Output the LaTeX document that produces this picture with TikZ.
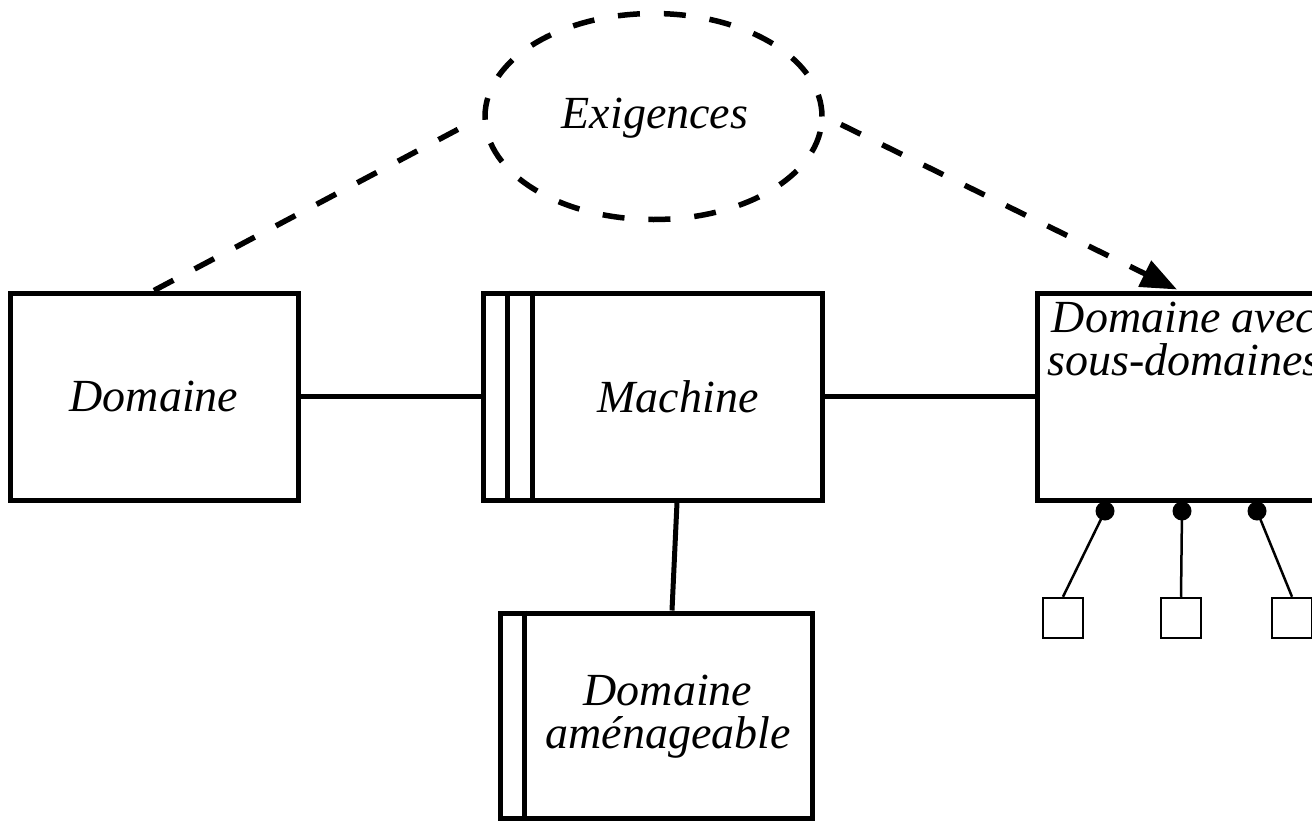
\documentclass[tikz,border=0pt]{standalone}
\usepackage{fontspec}
\setmainfont{Liberation Serif}
\usetikzlibrary{arrows.meta,calc,shapes.geometric}
\tikzset{
  box/.style={draw, line width=5pt, rectangle, inner sep=0pt},
  lbl/.style={font=\fontsize{46}{43}\selectfont\itshape, align=center, inner sep=0pt},
  link/.style={line width=5pt},
  dashlink/.style={line width=5.5pt, dash pattern=on 22pt off 24pt},
  dot/.style={circle, fill=black, inner sep=0pt, minimum size=19pt},
  sub/.style={draw, line width=2.5pt, rectangle, inner sep=0pt, minimum size=40pt},
  thin/.style={line width=2.5pt}
}
\begin{document}
\begin{tikzpicture}[x=1pt,y=-1pt]
\clip (0,0) rectangle (1312,822);
% main boxes
\node[box, minimum width=288pt, minimum height=207pt] (dom) at (154,396.5) {};
\node[lbl] (domt) at (154,396.5) {Domaine};
\node[box, minimum width=339pt, minimum height=207pt] (mach) at (652.5,396.5) {};
\node[lbl] (macht) at (678,396.5) {Machine};
\draw[link] ($(mach.north west)+(27,0)$) -- ($(mach.south west)+(27,0)$);
\draw[link] ($(mach.north west)+(52,0)$) -- ($(mach.south west)+(52,0)$);
\node[box, minimum width=296pt, minimum height=207pt] (dsub) at (1185,396.5) {};
\node[lbl] (dsubt) at (1184,339.5) {Domaine avec\\sous-domaines};
\node[box, minimum width=312pt, minimum height=205pt] (amen) at (656,715.5) {};
\node[lbl] (ament) at (668,716.5) {Domaine\\aménageable};
\draw[link] ($(amen.north west)+(27,0)$) -- ($(amen.south west)+(27,0)$);
% requirements
\node[draw, ellipse, dashlink, minimum width=337pt, minimum height=206pt, inner sep=0pt] (ex) at (653.5,116.5) {};
\node[lbl] (ext) at (655,118) {Exigences};
\coordinate (tgt) at ($(dsub.north)+(-8,-1)$);
\draw[dashlink, shorten >=22pt] (dom.north) -- (ex.west);
\draw[dashlink, shorten <=18pt, -{Triangle[length=36pt,width=28pt]}] (ex.east) -- (tgt);
% interfaces
\draw[link] (dom.east) -- (mach.west);
\draw[link] (mach.east) -- (dsub.west);
\draw[link] ($(mach.south)+(24.5,0)$) -- ($(amen.north)+(16,0)$);
% sub-domains
\node[dot] (d1) at (1105,511) {};
\node[dot] (d2) at (1182,511) {};
\node[dot] (d3) at (1257,511) {};
\node[sub] (s1) at (1063,618) {};
\node[sub] (s2) at (1181,618) {};
\node[sub] (s3) at (1292,618) {};
\draw[thin] (d1.center) -- (s1.north);
\draw[thin] (d2.center) -- (s2.north);
\draw[thin] (d3.center) -- (s3.north);
\end{tikzpicture}
\end{document}
